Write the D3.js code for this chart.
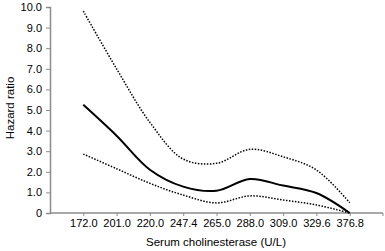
<!DOCTYPE html>
<html>
<head>
<meta charset="utf-8">
<script src="https://cdn.jsdelivr.net/npm/d3@7"></script>
<style>
body { margin: 0; background: #fff; }
text { font-family: "Liberation Sans", Arial, sans-serif; }
</style>
</head>
<body>
<div id="chart"></div>
<script>
var categories = ["172.0", "201.0", "220.0", "247.4", "265.0", "288.0", "309.0", "329.6", "376.8"];
var hazard = [5.25, 3.75, 2.1, 1.28, 1.08, 1.65, 1.33, 0.97, 0];
var upper  = [9.8, 7.0, 4.4, 2.62, 2.41, 3.09, 2.73, 2.09, 0.5];
var lower  = [2.86, 2.15, 1.44, 0.87, 0.49, 0.83, 0.63, 0.39, 0];
var yTicks = [0, 1, 2, 3, 4, 5, 6, 7, 8, 9, 10];

var width = 385, height = 251;
var margin = {top: 7, right: 2, bottom: 38, left: 50};

var svg = d3.select("#chart").append("svg")
	.attr("width", width)
	.attr("height", height);

// 10 slots along the axis, categories sit on slots 1..9
var x0 = margin.left, x1 = width - margin.right;
var step = (x1 - x0) / 10;
var x = d3.scalePoint()
	.domain(categories)
	.range([x0 + step, x0 + step * 9]);

var y = d3.scaleLinear()
	.domain([0, 10])
	.range([height - margin.bottom, margin.top]);

var axisColor = "#8c8c8c";

// y axis
var yAxis = svg.append("g")
	.attr("transform", "translate(" + x0 + ",0)")
	.call(d3.axisLeft(y).tickValues(yTicks).tickSize(4).tickPadding(4)
		.tickFormat(function(d) { return d === 0 ? "0" : d3.format(".1f")(d); }));
yAxis.select(".domain").attr("stroke", axisColor).attr("stroke-width", 1.5);
yAxis.selectAll(".tick line").attr("stroke", axisColor);
yAxis.selectAll("text").attr("font-size", 11).attr("fill", "#000")
	.style("font-family", "'Liberation Sans', Arial, sans-serif");

// x axis
var xAxis = svg.append("g")
	.attr("transform", "translate(0," + y(0) + ")")
	.call(d3.axisBottom(x).tickSize(3).tickPadding(3).tickSizeOuter(0));
xAxis.select(".domain").attr("d", "M" + x0 + ",0H" + x1)
	.attr("stroke", axisColor).attr("stroke-width", 1.5);
xAxis.selectAll(".tick line").attr("stroke", axisColor);
xAxis.selectAll("text").attr("font-size", 11).attr("fill", "#000")
	.style("font-family", "'Liberation Sans', Arial, sans-serif");
xAxis.append("line")
	.attr("x1", x1).attr("x2", x1).attr("y1", 0).attr("y2", 3)
	.attr("stroke", axisColor);

var line = d3.line()
	.x(function(d, i) { return x(categories[i]); })
	.y(function(d) { return y(d); })
	.curve(d3.curveCatmullRom.alpha(0.5));

svg.append("path").datum(upper)
	.attr("d", line).attr("fill", "none")
	.attr("stroke", "#000").attr("stroke-width", 1.5)
	.attr("stroke-dasharray", "1.5,1.5");

svg.append("path").datum(lower)
	.attr("d", line).attr("fill", "none")
	.attr("stroke", "#000").attr("stroke-width", 1.5)
	.attr("stroke-dasharray", "1.5,1.5");

svg.append("path").datum(hazard)
	.attr("d", line).attr("fill", "none")
	.attr("stroke", "#000").attr("stroke-width", 2);

// axis titles
svg.append("text")
	.attr("x", 216).attr("y", 246)
	.attr("text-anchor", "middle")
	.attr("font-size", 11.5)
	.text("Serum cholinesterase (U/L)");

svg.append("text")
	.attr("transform", "translate(14," + 108 + ") rotate(-90)")
	.attr("text-anchor", "middle")
	.attr("font-size", 11.5)
	.text("Hazard ratio");
</script>
</body>
</html>
